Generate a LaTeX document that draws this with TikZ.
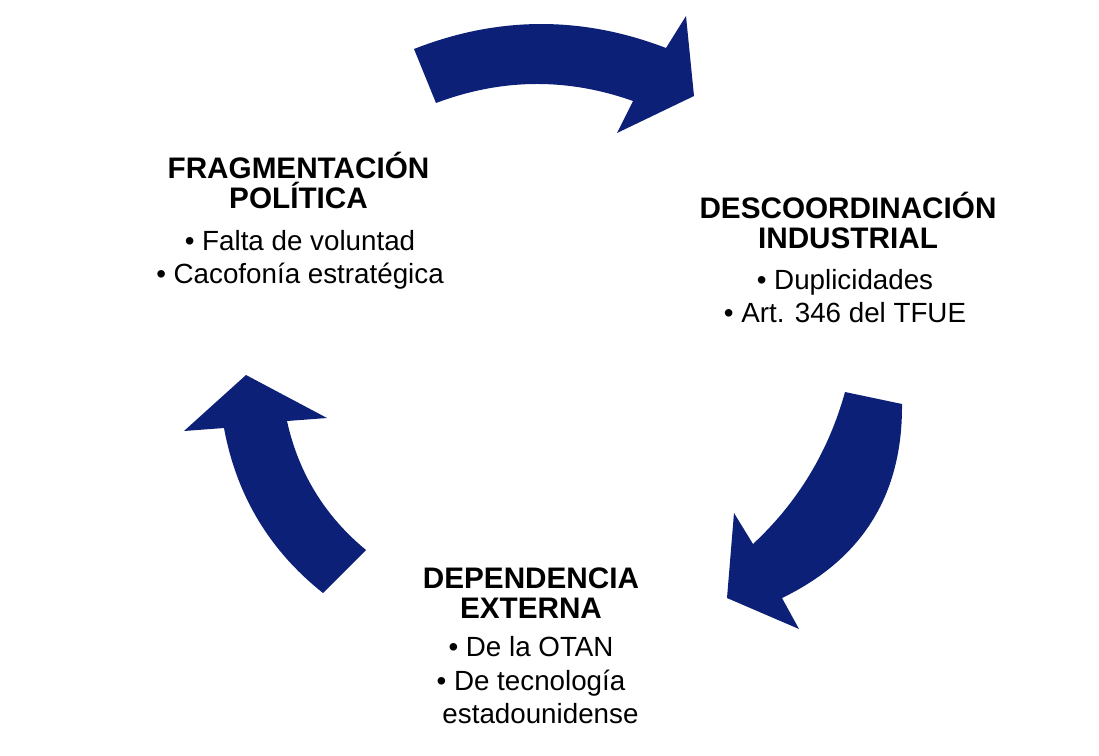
\documentclass[tikz,border=0pt]{standalone}
\usepackage{fontspec}
\setmainfont{Liberation Sans}
\usepackage{xcolor}
\usepackage{tikz}
\definecolor{cyclenavy}{RGB}{12,32,120}

\begin{document}
\begin{tikzpicture}[x=0.02cm,y=-0.02cm,
  cyclearrow/.style={fill=cyclenavy,draw=none},
  titletext/.style={align=center,anchor=base,inner sep=0pt,
    font=\fontsize{16.9pt}{17.1pt}\selectfont\bfseries},
  bodytext/.style={align=center,anchor=base,inner sep=0pt,
    font=\fontsize{15.8pt}{18.95pt}\selectfont}]
  \useasboundingbox (0,0) rectangle (1099,755);
  % the three arrows of the cycle
  \fill[cyclearrow] (414,49) .. controls (498,16) and (582,15.7) .. (666,48)
    -- (686,16) -- (694,96) -- (617,133) -- (633,101)
    .. controls (567.3,77.7) and (501.7,78.3) .. (436,103) -- cycle;
  \fill[cyclearrow] (845,392) -- (902,404)
    .. controls (902.8,494.2) and (862.8,558.9) .. (782,598)
    -- (799,629) -- (727,598) -- (734,513) -- (753,544)
    .. controls (797.8,502.3) and (828.5,451.6) .. (845,392) -- cycle;
  \fill[cyclearrow] (323,593) .. controls (269.4,550.4) and (236.4,495.4) .. (224,428)
    -- (184,431) -- (246,375) -- (327,418) -- (287,421)
    .. controls (298.5,473.1) and (324.9,516.1) .. (366,550) -- cycle;
  % texts
  \node[titletext] (fragtitle) at (298.5,208.3) {FRAGMENTACIÓN\\POLÍTICA};
  \node[bodytext] (fragbody) at (300,283.3)
    {• Falta de voluntad\\• Cacofonía estratégica};
  \node[titletext] (desctitle) at (848,248.3) {DESCOORDINACIÓN\\INDUSTRIAL};
  \node[bodytext] (descbody) at (845,322.3)
    {• Duplicidades\\• Art. 346 del TFUE};
  \node[titletext] (deptitle) at (531,618.3) {DEPENDENCIA\\EXTERNA};
  \node[bodytext] (depbody) at (531,723.3)
    {• De la OTAN\\• De tecnología\\\hspace*{10.8pt}estadounidense};
\end{tikzpicture}
\end{document}
